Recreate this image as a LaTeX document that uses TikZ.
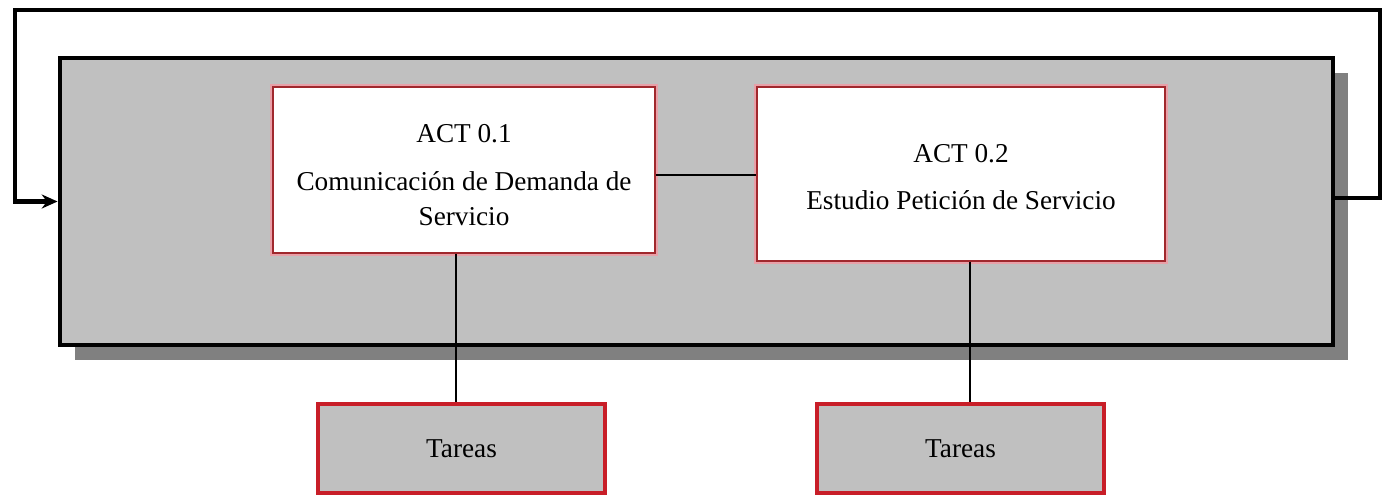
\documentclass[tikz,border=0pt]{standalone}
\usepackage{fontspec}
\setmainfont{Liberation Serif}
\usetikzlibrary{arrows.meta}
\usetikzlibrary{positioning,shadows}
\definecolor{boxGray}{RGB}{192,192,192}
\definecolor{shadowGray}{RGB}{128,128,128}
\definecolor{actRed}{RGB}{160,40,45}
\definecolor{actPink}{RGB}{232,160,168}
\definecolor{taskRed}{RGB}{200,30,40}
\tikzset{every node/.style={align=center},
		mainBox/.style={rectangle,draw=black,line width=2.8pt,fill=boxGray,
		                drop shadow={shadow xshift=0.3cm,shadow yshift=-0.3cm,fill=shadowGray,opacity=1}},
		actBox/.style={rectangle,draw=actRed,line width=0.8pt,fill=white,
		               preaction={draw=actPink,line width=3pt},
		               font=\fontsize{15.5}{20}\selectfont},
		taskBox/.style={rectangle,draw=taskRed,line width=2pt,fill=boxGray,
		                font=\fontsize{15.5}{20}\selectfont},
		link/.style={-,line width=0.8pt},
		loopLine/.style={-{Stealth[length=9pt,width=8pt]},line width=2.4pt}}

\begin{document}
\begin{tikzpicture}[x=0.02cm,y=-0.02cm]
		\useasboundingbox (0,0) rectangle (1383,498);
		\node at (696.5,201.5) [mainBox,minimum width=1273*0.02cm,minimum height=287*0.02cm] (main){};
		\node at (464,170) [actBox,minimum width=382*0.02cm,minimum height=166*0.02cm] (act1){\rule{0pt}{16pt}ACT 0.1\\[7pt]Comunicación de Demanda de\\Servicio};
		\node at (961,174) [actBox,minimum width=408*0.02cm,minimum height=174*0.02cm] (act2){\rule{0pt}{13.5pt}ACT 0.2\\[7pt]Estudio Petición de Servicio};
		\node at (461.5,448.5) [taskBox,minimum width=287*0.02cm,minimum height=89*0.02cm] (task1){Tareas};
		\node at (960.5,448.5) [taskBox,minimum width=287*0.02cm,minimum height=89*0.02cm] (task2){Tareas};
		%loop corners
		\coordinate (loopR) at (1380,10);
		\coordinate (loopL) at (15,10);

		\draw[link] ([yshift=-0.1cm]act1.east) -- ([yshift=-0.1cm]act1.east -| act2.west);
		\draw[link] ([xshift=-0.16cm]act1.south) -- ([xshift=-0.16cm]act1.south |- task1.north);
		\draw[link] ([xshift=0.18cm]act2.south) -- ([xshift=0.18cm]act2.south |- task2.north);
		\draw[loopLine] ([yshift=0.07cm]main.east) -| (loopR) -- (loopL) |- (main.west);
\end{tikzpicture}
\end{document}
